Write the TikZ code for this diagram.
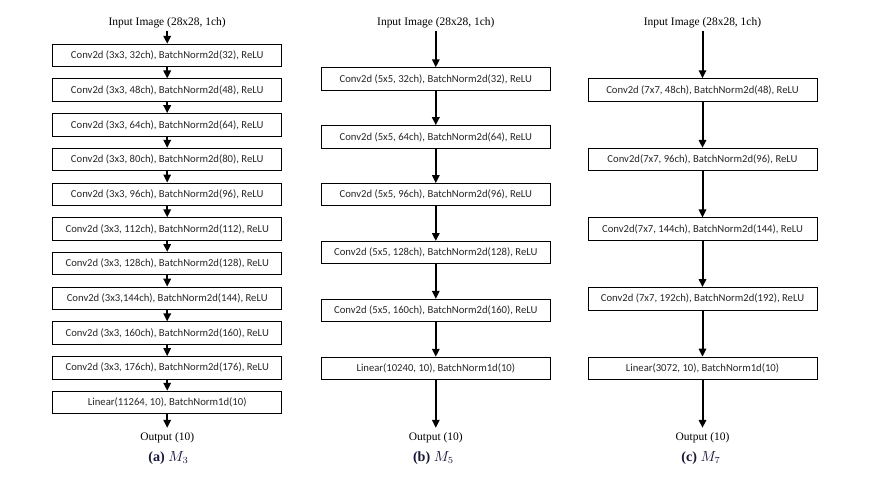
\documentclass[tikz,border=0pt]{standalone}
\usepackage{fontspec}
\setmainfont{Liberation Serif}
\newfontfamily\boxfont{Carlito}
\usetikzlibrary{arrows.meta}
\definecolor{capcol}{RGB}{24,24,56}
\begin{document}
\begin{tikzpicture}[x=0.75pt,y=-0.75pt,
  layer/.style={draw=black, line width=0.75pt, minimum width=171.75pt, minimum height=16.8pt,
    inner sep=0pt, text=black!85, font=\boxfont\fontsize{8}{9.6}\selectfont},
  lbl/.style={font=\fontsize{8.6}{10}\selectfont, inner sep=2pt},
  outlbl/.style={font=\fontsize{8.6}{10}\selectfont, inner sep=3.5pt},
  captxt/.style={font=\fontsize{10.6}{12}\selectfont\bfseries, text=capcol, inner sep=1pt},
  flow/.style={-{Triangle[length=6pt,width=5.5pt]}, line width=1.5pt}]
\path[use as bounding box] (0,0) rectangle (876,478);

% ---------------- (a) M3 ----------------
\node[lbl] (ain) at (167.2,22.7) {Input Image (28x28, 1ch)};
\foreach \t [count=\i] in {
  {Conv2d (3x3, 32ch), BatchNorm2d(32), ReLU},
  {Conv2d (3x3, 48ch), BatchNorm2d(48), ReLU},
  {Conv2d (3x3, 64ch), BatchNorm2d(64), ReLU},
  {Conv2d (3x3, 80ch), BatchNorm2d(80), ReLU},
  {Conv2d (3x3, 96ch), BatchNorm2d(96), ReLU},
  {Conv2d (3x3, 112ch), BatchNorm2d(112), ReLU},
  {Conv2d (3x3, 128ch), BatchNorm2d(128), ReLU},
  {Conv2d (3x3,144ch), BatchNorm2d(144), ReLU},
  {Conv2d (3x3, 160ch), BatchNorm2d(160), ReLU},
  {Conv2d (3x3, 176ch), BatchNorm2d(176), ReLU},
  {Linear(11264, 10), BatchNorm1d(10)}}
  {\node[layer] (a\i) at (167.2,{55.5+34.7*(\i-1)}) {\t};}
\node[outlbl] (aout) at (167.2,438) {Output (10)};
\node[captxt] (acap) at (168.5,458) {(a) $M_3$};
\draw[flow] (ain) -- (a1);
\foreach \i/\j in {1/2,2/3,3/4,4/5,5/6,6/7,7/8,8/9,9/10,10/11}
  {\draw[flow] (a\i) -- (a\j);}
\draw[flow] (a11) -- (aout);

% ---------------- (b) M5 ----------------
\node[lbl] (bin) at (435.8,22.7) {Input Image (28x28, 1ch)};
\foreach \t [count=\i] in {
  {Conv2d (5x5, 32ch), BatchNorm2d(32), ReLU},
  {Conv2d (5x5, 64ch), BatchNorm2d(64), ReLU},
  {Conv2d (5x5, 96ch), BatchNorm2d(96), ReLU},
  {Conv2d (5x5, 128ch), BatchNorm2d(128), ReLU},
  {Conv2d (5x5, 160ch), BatchNorm2d(160), ReLU},
  {Linear(10240, 10), BatchNorm1d(10)}}
  {\node[layer] (b\i) at (435.8,{79+57.9*(\i-1)}) {\t};}
\node[outlbl] (bout) at (435.8,438) {Output (10)};
\node[captxt] (bcap) at (433.5,458) {(b) $M_5$};
\draw[flow] (bin) -- (b1);
\foreach \i/\j in {1/2,2/3,3/4,4/5,5/6}
  {\draw[flow] (b\i) -- (b\j);}
\draw[flow] (b6) -- (bout);

% ---------------- (c) M7 ----------------
\node[lbl] (cin) at (702.5,22.7) {Input Image (28x28, 1ch)};
\foreach \t [count=\i] in {
  {Conv2d (7x7, 48ch), BatchNorm2d(48), ReLU},
  {Conv2d(7x7, 96ch), BatchNorm2d(96), ReLU},
  {Conv2d(7x7, 144ch), BatchNorm2d(144), ReLU},
  {Conv2d (7x7, 192ch), BatchNorm2d(192), ReLU},
  {Linear(3072, 10), BatchNorm1d(10)}}
  {\node[layer] (c\i) at (702.5,{90+69.6*(\i-1)}) {\t};}
\node[outlbl] (cout) at (702.5,438) {Output (10)};
\node[captxt] (ccap) at (701,458) {(c) $M_7$};
\draw[flow] (cin) -- (c1);
\foreach \i/\j in {1/2,2/3,3/4,4/5}
  {\draw[flow] (c\i) -- (c\j);}
\draw[flow] (c5) -- (cout);
\end{tikzpicture}
\end{document}
